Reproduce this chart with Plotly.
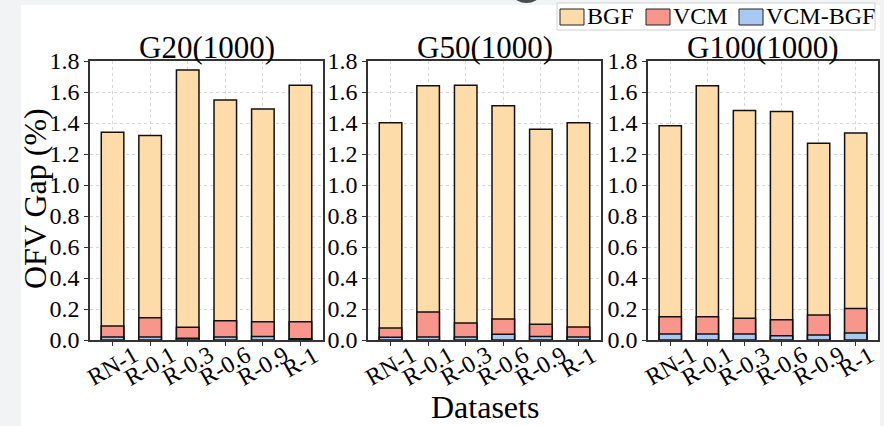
import plotly.graph_objects as go

W, H = 884, 426

categories = ["RN-1", "R-0.1", "R-0.3", "R-0.6", "R-0.9", "R-1"]
panel_titles = ["G20(1000)", "G50(1000)", "G100(1000)"]
series_names = ["BGF", "VCM", "VCM-BGF"]

bgf_g20 = [1.34, 1.32, 1.742, 1.548, 1.49, 1.643]
vcm_g20 = [0.09, 0.144, 0.082, 0.125, 0.118, 0.118]
vcmbgf_g20 = [0.02, 0.02, 0.012, 0.02, 0.022, 0.008]

bgf_g50 = [1.402, 1.641, 1.643, 1.512, 1.359, 1.402]
vcm_g50 = [0.077, 0.181, 0.11, 0.135, 0.101, 0.084]
vcmbgf_g50 = [0.018, 0.02, 0.02, 0.037, 0.022, 0.02]

bgf_g100 = [1.383, 1.641, 1.48, 1.475, 1.269, 1.335]
vcm_g100 = [0.15, 0.15, 0.14, 0.131, 0.161, 0.204]
vcmbgf_g100 = [0.039, 0.039, 0.039, 0.028, 0.032, 0.045]

y_ticks = [0.0, 0.2, 0.4, 0.6, 0.8, 1.0, 1.2, 1.4, 1.6, 1.8]

panels = [
    (bgf_g20, vcm_g20, vcmbgf_g20),
    (bgf_g50, vcm_g50, vcmbgf_g50),
    (bgf_g100, vcm_g100, vcmbgf_g100),
]
colors = ["#fddca9", "#f9968b", "#a9c9f2"]

FONT = "Liberation Serif"


def px(x):
    return x / W


def py(y):
    return 1 - y / H


x_domains = [(90, 323), (368, 601), (648, 878)]
y_dom = [py(340), py(61)]

fig = go.Figure()
for p, vals in enumerate(panels):
    xa = "x" if p == 0 else f"x{p + 1}"
    ya = "y" if p == 0 else f"y{p + 1}"
    for s, (name, v) in enumerate(zip(series_names, vals)):
        fig.add_trace(go.Bar(
            x=categories, y=v, name=name, xaxis=xa, yaxis=ya,
            width=0.6, showlegend=False, legendgroup=name,
            marker=dict(color=colors[s], line=dict(color="#111111", width=1.5)),
        ))

layout = dict(
    width=W, height=H, barmode="overlay",
    margin=dict(l=0, r=0, t=0, b=0, pad=0, autoexpand=False),
    paper_bgcolor="#f2f3f5", plot_bgcolor="white",
    font=dict(family=FONT, size=24, color="black"),
    showlegend=False,
)

annotations = []
shapes = [
    dict(type="rect", xref="paper", yref="paper", layer="below",
         x0=px(21), x1=px(880), y0=0, y1=py(5),
         fillcolor="white", line=dict(width=0)),
    dict(type="circle", xref="paper", yref="paper", layer="above",
         x0=px(514), x1=px(539), y0=py(3), y1=py(-12),
         fillcolor="#4a4a4a", line=dict(width=0)),
]

for p in range(3):
    xk = "xaxis" if p == 0 else f"xaxis{p + 1}"
    yk = "yaxis" if p == 0 else f"yaxis{p + 1}"
    xa = "x" if p == 0 else f"x{p + 1}"
    ya = "y" if p == 0 else f"y{p + 1}"
    x0, x1 = x_domains[p]
    layout[xk] = dict(
        domain=[px(x0), px(x1)], anchor=ya, type="category",
        categoryorder="array", categoryarray=categories,
        range=[-0.6, 5.6], showticklabels=False,
        showline=True, linecolor="#333333", linewidth=1.5, mirror=True,
        ticks="outside", ticklen=4, tickcolor="#333333",
        showgrid=True, gridcolor="#d6d6d6", griddash="dot", gridwidth=1,
        zeroline=False,
    )
    layout[yk] = dict(
        domain=y_dom, anchor=xa, range=[0, 1.8],
        tickvals=y_ticks, ticktext=[f"{t:.1f}" for t in y_ticks],
        showline=True, linecolor="#333333", linewidth=1.5, mirror=True,
        ticks="outside", ticklen=4, tickcolor="#333333",
        showgrid=True, gridcolor="#d6d6d6", griddash="dot", gridwidth=1,
        zeroline=False, tickfont=dict(family=FONT, size=24, color="black"),
    )
    annotations.append(dict(
        text=panel_titles[p], xref="paper", yref="paper",
        x=px((x0 + x1) / 2), y=py(48), xanchor="center", yanchor="middle",
        showarrow=False, font=dict(family=FONT, size=31, color="black"),
    ))
    for c in categories:
        annotations.append(dict(
            text=c, xref=xa, yref="paper", x=c, y=py(340),
            xanchor="center", yanchor="top", textangle=-30,
            showarrow=False, borderpad=0,
            font=dict(family=FONT, size=24, color="black"),
        ))

annotations.append(dict(
    text="OFV Gap (%)", xref="paper", yref="paper", x=px(35), y=py(199),
    xanchor="center", yanchor="middle", textangle=-90, showarrow=False,
    font=dict(family=FONT, size=32, color="black"),
))
annotations.append(dict(
    text="Datasets", xref="paper", yref="paper", x=px(485), y=py(407),
    xanchor="center", yanchor="middle", showarrow=False,
    font=dict(family=FONT, size=32, color="black"),
))

# legend (drawn as a boxed key in the top-right corner)
shapes.append(dict(type="rect", xref="paper", yref="paper", layer="above",
                   x0=px(557), x1=px(875), y0=py(30), y1=py(3),
                   fillcolor="white", line=dict(color="#d0d0d0", width=1)))
legend_swatch_x = [560, 646, 739]
for s, name in enumerate(series_names):
    sx = legend_swatch_x[s]
    shapes.append(dict(type="rect", xref="paper", yref="paper", layer="above",
                       x0=px(sx), x1=px(sx + 24), y0=py(25), y1=py(9),
                       fillcolor=colors[s], line=dict(color="#222222", width=1)))
    annotations.append(dict(
        text=name, xref="paper", yref="paper", x=px(sx + 25), y=py(16),
        xanchor="left", yanchor="middle", showarrow=False,
        font=dict(family=FONT, size=24, color="black"),
    ))

layout["annotations"] = annotations
layout["shapes"] = shapes

fig.update_layout(**layout)
fig.write_html("out.html")
